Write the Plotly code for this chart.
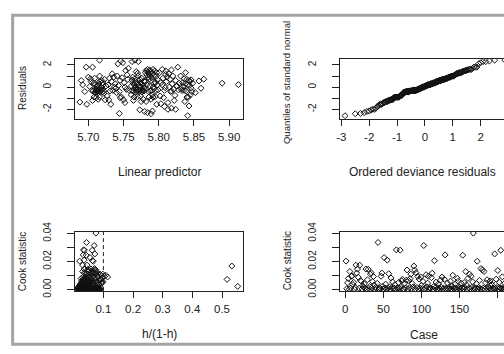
import plotly.graph_objects as go
from statistics import NormalDist

W, H = 504, 354
FONT = "Liberation Sans, Arial, sans-serif"
INK = "#222222"

# ---------------- data ----------------
linear_predictor = [
    5.688, 5.698, 5.697, 5.706, 5.716, 5.692, 5.690, 5.695, 5.700, 5.703,
    5.705, 5.707, 5.708, 5.709, 5.710, 5.710, 5.711, 5.711, 5.712, 5.712,
    5.713, 5.713, 5.714, 5.714, 5.715, 5.715, 5.716, 5.716, 5.717, 5.718,
    5.718, 5.719, 5.720, 5.720, 5.721, 5.722, 5.723, 5.724, 5.725, 5.708,
    5.704, 5.702, 5.706, 5.709, 5.712, 5.716, 5.719, 5.722, 5.710, 5.714,
    5.729, 5.732, 5.744, 5.742, 5.746, 5.749, 5.753, 5.757, 5.738, 5.741,
    5.745, 5.748, 5.740, 5.747, 5.744, 5.745, 5.752, 5.750, 5.730, 5.733,
    5.735, 5.737, 5.728, 5.731, 5.736, 5.739, 5.743, 5.751, 5.754, 5.756,
    5.758, 5.755, 5.727, 5.734, 5.752,
    5.762, 5.766, 5.771, 5.768, 5.770, 5.773, 5.778, 5.765, 5.770, 5.775,
    5.761, 5.762, 5.763, 5.764, 5.765, 5.766, 5.767, 5.767, 5.768, 5.769,
    5.769, 5.770, 5.771, 5.772, 5.772, 5.773, 5.774, 5.774, 5.775, 5.776,
    5.776, 5.777, 5.778, 5.779, 5.763, 5.766, 5.771, 5.764, 5.777, 5.761,
    5.768, 5.773, 5.779, 5.762, 5.775,
    5.781, 5.782, 5.783, 5.784, 5.785, 5.785, 5.786, 5.787, 5.788, 5.789,
    5.790, 5.791, 5.792, 5.793, 5.794, 5.796, 5.797, 5.780, 5.784, 5.789,
    5.791, 5.789, 5.797, 5.782, 5.786, 5.788, 5.790, 5.792, 5.794, 5.781,
    5.783, 5.785, 5.787, 5.789, 5.791, 5.793, 5.795, 5.796, 5.798, 5.799,
    5.786, 5.792, 5.780, 5.798, 5.795,
    5.827, 5.801, 5.805, 5.810, 5.814, 5.818, 5.810, 5.803, 5.808, 5.813,
    5.818, 5.824, 5.802, 5.807, 5.813, 5.817, 5.822, 5.805, 5.808, 5.811,
    5.815, 5.819, 5.821, 5.824, 5.826, 5.828, 5.806, 5.812, 5.816, 5.820,
    5.803, 5.809, 5.823, 5.829, 5.818,
    5.841, 5.843, 5.836, 5.840, 5.843, 5.846, 5.834, 5.838, 5.841, 5.844,
    5.836, 5.839, 5.842, 5.845, 5.833, 5.847, 5.840, 5.835, 5.844, 5.831,
    5.838, 5.846, 5.832, 5.848, 5.837,
    5.852, 5.857, 5.864, 5.890, 5.913, 5.860,
]

residuals = [
    -1.35, -1.55, 1.80, 1.80, 2.43, 0.20, 0.60, -0.40, 0.90, 0.75,
    -0.30, -0.35, -0.90, -0.50, -0.20, -0.45, -0.95, -0.40, -0.25, 0.10,
    -0.40, -0.30, -1.10, -0.50, 0.30, -0.15, -0.90, 0.50, -0.40, -0.30,
    0.00, -0.25, 0.40, -0.45, 0.20, -0.35, 0.70, -1.15, 0.10, 0.35,
    0.50, 0.05, -1.20, 0.80, -0.05, 1.00, 0.60, -0.55, 0.20, 0.15,
    -1.15, -1.55, -2.37, 2.10, 2.35, 2.20, 1.50, 1.70, 0.30, 1.00,
    0.60, 0.85, -0.50, -0.90, -0.40, -0.95, -1.40, -1.15, 0.80, 0.50,
    -0.30, 0.00, 0.20, -0.35, 0.90, -0.10, 0.15, 0.40, -0.20, 0.70,
    -0.30, 1.10, -0.80, 1.20, 0.00,
    2.30, 2.43, 2.30, 1.40, 1.25, -2.05, -1.10, -0.90, -0.85, -1.30,
    0.10, -0.30, 0.40, -0.35, 0.20, -0.10, 0.50, -0.45, 0.00, -0.40,
    0.30, -0.20, 0.60, -0.40, 0.10, -0.30, 0.40, -0.80, 0.00, 0.80,
    -0.45, 0.25, -0.15, 0.55, 0.90, 0.75, 1.00, -1.20, -0.30, -0.70,
    -0.25, 0.70, -0.35, 0.65, 0.35,
    1.30, 1.50, 1.10, 1.60, 0.90, 1.35, 1.20, 1.55, 1.00, 1.40,
    0.85, 1.25, 1.60, 1.05, 1.45, 0.95, 1.30, -2.20, -2.30, -2.40,
    -2.15, -1.10, -1.55, -1.30, -0.90, -0.35, -0.30, 0.00, 0.30, 0.50,
    0.20, -0.40, 0.10, 0.60, -0.70, -0.15, 0.45, -0.30, 0.20, -0.25,
    0.70, -0.90, -0.05, 0.70, -0.85,
    1.80, 1.30, 1.60, 1.45, 1.20, 1.55, 1.15, -1.50, -1.75, -2.00,
    -1.90, -2.00, -0.80, -0.95, -1.40, -0.40, -1.20, 0.20, -0.30, 0.50,
    0.00, 0.30, -0.20, 0.60, 0.10, -0.25, 0.80, 0.90, 0.70, 1.00,
    0.40, -0.05, -0.75, 0.35, -0.35,
    -2.58, -1.70, 0.75, 0.70, 0.60, 0.65, 0.40, 0.30, 0.20, 0.50,
    -0.30, -0.35, -0.90, -0.70, -0.30, -0.40, -0.90, 0.05, 0.15, 1.00,
    1.30, -0.10, -0.15, 0.35, -1.30,
    -0.50, 0.55, 0.72, 0.35, 0.22, -0.10,
]

cook_statistic = [
    0.0203, 0.0006, 0.0048, 0.0079, 0.0002, 0.0129, 0.0011, 0.0095, 0.0098, 0.0036,
    0.0052, 0.0003, 0.0015, 0.0174, 0.0118, 0.0146, 0.0088, 0.0009, 0.0174, 0.0064,
    0.0060, 0.0005, 0.0027, 0.0018, 0.0041, 0.0010, 0.0147, 0.0004, 0.0070, 0.0145,
    0.0008, 0.0021, 0.0110, 0.0120, 0.0012, 0.0057, 0.0093, 0.0033, 0.0002, 0.0016,
    0.0007, 0.0045, 0.0336, 0.0003, 0.0013, 0.0008, 0.0095, 0.0118, 0.0024, 0.0006,
    0.0228, 0.0011, 0.0039, 0.0004, 0.0210, 0.0009, 0.0113, 0.0017, 0.0001, 0.0083,
    0.0014, 0.0055, 0.0005, 0.0010, 0.0035, 0.0003, 0.0283, 0.0012, 0.0007, 0.0050,
    0.0009, 0.0281, 0.0016, 0.0062, 0.0073, 0.0006, 0.0002, 0.0044, 0.0011, 0.0067,
    0.0140, 0.0004, 0.0065, 0.0013, 0.0078, 0.0110, 0.0008, 0.0043, 0.0020, 0.0168,
    0.0140, 0.0005, 0.0120, 0.0015, 0.0094, 0.0002, 0.0075, 0.0010, 0.0090, 0.0030,
    0.0009, 0.0058, 0.0314, 0.0003, 0.0012, 0.0106, 0.0019, 0.0046, 0.0095, 0.0006,
    0.0014, 0.0007, 0.0085, 0.0117, 0.0004, 0.0022, 0.0206, 0.0011, 0.0053, 0.0002,
    0.0008, 0.0040, 0.0013, 0.0005, 0.0068, 0.0017, 0.0090, 0.0003, 0.0010, 0.0073,
    0.0247, 0.0006, 0.0012, 0.0047, 0.0002, 0.0015, 0.0009, 0.0060, 0.0004, 0.0025,
    0.0102, 0.0011, 0.0006, 0.0038, 0.0013, 0.0003, 0.0080, 0.0060, 0.0008, 0.0018,
    0.0005, 0.0045, 0.0012, 0.0245, 0.0007, 0.0050, 0.0014, 0.0129, 0.0033, 0.0004,
    0.0080, 0.0010, 0.0110, 0.0006, 0.0095, 0.0016, 0.0055, 0.0402, 0.0009, 0.0003,
    0.0012, 0.0042, 0.0202, 0.0005, 0.0015, 0.0066, 0.0008, 0.0150, 0.0002, 0.0140,
    0.0011, 0.0129, 0.0004, 0.0048, 0.0013, 0.0070, 0.0007, 0.0020, 0.0010, 0.0062,
    0.0006, 0.0037, 0.0058, 0.0012, 0.0003, 0.0254, 0.0009, 0.0074, 0.0015, 0.0136,
    0.0005, 0.0052, 0.0011, 0.0280, 0.0008, 0.0091, 0.0002, 0.0014, 0.0046, 0.0010,
    0.0004, 0.0023, 0.0012, 0.0007, 0.0039, 0.0052, 0.0006, 0.0016, 0.0009, 0.0061,
    0.0013, 0.0003, 0.0044, 0.0085, 0.0008, 0.0011, 0.0027, 0.0005, 0.0072, 0.0002,
    0.0015, 0.0009, 0.0049, 0.0006, 0.0068, 0.0012, 0.0003, 0.0034, 0.0010, 0.0056,
    0.0007,
]

h_ratio = [
    0.020, 0.014, 0.052, 0.025, 0.061, 0.030, 0.019, 0.065, 0.055, 0.044,
    0.071, 0.016, 0.038, 0.030, 0.036, 0.035, 0.040, 0.083, 0.045, 0.027,
    0.030, 0.012, 0.049, 0.023, 0.062, 0.018, 0.058, 0.076, 0.034, 0.048,
    0.015, 0.057, 0.088, 0.040, 0.028, 0.046, 0.068, 0.021, 0.090, 0.033,
    0.017, 0.079, 0.043, 0.025, 0.052, 0.013, 0.045, 0.060, 0.031, 0.069,
    0.055, 0.022, 0.064, 0.086, 0.035, 0.041, 0.080, 0.015, 0.072, 0.070,
    0.027, 0.050, 0.018, 0.060, 0.029, 0.038, 0.033, 0.047, 0.014, 0.056,
    0.063, 0.036, 0.024, 0.042, 0.517, 0.075, 0.020, 0.032, 0.066, 0.039,
    0.052, 0.016, 0.050, 0.029, 0.044, 0.098, 0.057, 0.085, 0.023, 0.533,
    0.074, 0.081, 0.068, 0.019, 0.103, 0.034, 0.035, 0.053, 0.114, 0.026,
    0.048, 0.037, 0.069, 0.013, 0.065, 0.090, 0.040, 0.024, 0.080, 0.059,
    0.021, 0.088, 0.030, 0.072, 0.046, 0.017, 0.063, 0.054, 0.027, 0.078,
    0.044, 0.024, 0.092, 0.015, 0.033, 0.061, 0.082, 0.037, 0.050, 0.090,
    0.032, 0.070, 0.018, 0.058, 0.026, 0.047, 0.084, 0.040, 0.012, 0.066,
    0.108, 0.029, 0.052, 0.036, 0.075, 0.020, 0.043, 0.060, 0.067, 0.031,
    0.055, 0.093, 0.014, 0.042, 0.079, 0.097, 0.025, 0.075, 0.038, 0.062,
    0.058, 0.022, 0.045, 0.071, 0.060, 0.035, 0.028, 0.075, 0.086, 0.016,
    0.049, 0.064, 0.066, 0.030, 0.057, 0.041, 0.019, 0.070, 0.081, 0.070,
    0.037, 0.050, 0.073, 0.026, 0.062, 0.045, 0.013, 0.054, 0.034, 0.080,
    0.068, 0.031, 0.098, 0.047, 0.022, 0.071, 0.059, 0.039, 0.017, 0.062,
    0.087, 0.044, 0.028, 0.062, 0.052, 0.050, 0.076, 0.018, 0.065, 0.035,
    0.024, 0.553, 0.043, 0.069, 0.030, 0.078, 0.015, 0.057, 0.040, 0.048,
    0.061, 0.020, 0.036, 0.096, 0.083, 0.027, 0.050, 0.070, 0.032, 0.045,
    0.016, 0.064, 0.039, 0.025, 0.087, 0.053, 0.074, 0.029, 0.041, 0.058,
    0.033,
]

cook_cutoff_h = 0.1

lp_ticks = [5.70, 5.75, 5.80, 5.85, 5.90]
lp_ticktext = ["5.70", "5.75", "5.80", "5.85", "5.90"]
res_ticks = [-2, -1, 0, 1, 2]
res_ticktext = ["-2", "", "0", "", "2"]
dev_ticks = [-3, -2, -1, 0, 1, 2]
dev_ticktext = ["-3", "-2", "-1", "0", "1", "2"]
h_ticks = [0.1, 0.2, 0.3, 0.4, 0.5]
h_ticktext = ["0.1", "0.2", "0.3", "0.4", "0.5"]
cook_ticks = [0.0, 0.01, 0.02, 0.03, 0.04]
cook_ticktext = ["0.00", "", "0.02", "", "0.04"]
case_ticks = [0, 50, 100, 150, 200]
case_ticktext = ["0", "50", "100", "150", "200"]

# ---------------- derived (QQ) ----------------
n = len(residuals)
ordered_resid = sorted(residuals)
normal_quantiles = [NormalDist().inv_cdf((i + 0.5) / n) for i in range(n)]
cases = list(range(1, len(cook_statistic) + 1))

# ---------------- figure ----------------
def fx(p):
    return p / W


def fy(p):
    return 1 - p / H


marker = dict(symbol="diamond-open", size=4.6, color="#111111",
              line=dict(width=1.0, color="#111111"))

fig = go.Figure()
fig.add_trace(go.Scatter(x=linear_predictor, y=residuals, mode="markers",
                         marker=marker, xaxis="x", yaxis="y", hoverinfo="skip"))
fig.add_trace(go.Scatter(x=normal_quantiles, y=ordered_resid, mode="markers",
                         marker=marker, xaxis="x2", yaxis="y2", hoverinfo="skip"))
fig.add_trace(go.Scatter(x=h_ratio, y=cook_statistic, mode="markers",
                         marker=marker, xaxis="x3", yaxis="y3", hoverinfo="skip"))
fig.add_trace(go.Scatter(x=cases, y=cook_statistic, mode="markers",
                         marker=marker, xaxis="x4", yaxis="y4", hoverinfo="skip"))

# grey screenshot frame drawn on a full-page overlay axis (pixel units)
FRAME = "#a4a4a4"
fig.add_trace(go.Scatter(x=[504, 8.7, 8.7, 504], y=[5.5, 5.5, 351, 351], mode="lines",
                         line=dict(color=FRAME, width=3), xaxis="x5", yaxis="y5",
                         hoverinfo="skip", cliponaxis=False))

tickfont = dict(family=FONT, size=11.5, color=INK)
ytickfont = dict(family=FONT, size=10, color=INK)


def xax(domain, rng, tv, tt, anchor):
    return dict(domain=domain, range=rng, anchor=anchor, tickvals=tv, ticktext=tt,
                ticks="outside", ticklen=6, tickwidth=1, tickcolor=INK,
                showline=True, linecolor=INK, linewidth=1, mirror=True,
                showgrid=False, zeroline=False, tickfont=tickfont,
                ticklabelstandoff=1, fixedrange=True)


def yax(domain, rng, tv, tt, anchor, mirror):
    return dict(domain=domain, range=rng, anchor=anchor, tickvals=tv, ticktext=tt,
                ticks="outside", ticklen=7, tickwidth=1, tickcolor=INK,
                showline=True, linecolor=INK, linewidth=1, mirror=mirror,
                showgrid=False, zeroline=False, tickfont=ytickfont, tickangle=-90,
                ticklabelstandoff=12, fixedrange=True)


top_dom = [fy(114.3), fy(51.7)]
bot_dom = [fy(295.3), fy(232.7)]
left_dom = [fx(72), fx(241)]
right_dom = [fx(339), 1.0]

fig.update_layout(
    width=W, height=H,
    margin=dict(l=0, r=0, t=0, b=0),
    paper_bgcolor="white", plot_bgcolor="rgba(0,0,0,0)",
    showlegend=False,
    font=dict(family=FONT, color=INK),
    xaxis=xax(left_dom, [5.6817, 5.9197], lp_ticks, lp_ticktext, "y"),
    yaxis=yax(top_dom, [-2.858, 2.515], res_ticks, res_ticktext, "x", True),
    xaxis2=xax(right_dom, [-3.036, 2.836], dev_ticks, dev_ticktext, "y2"),
    yaxis2=yax(top_dom, [-2.858, 2.515], res_ticks, res_ticktext, "x2", False),
    xaxis3=xax(left_dom, [0.0057, 0.571], h_ticks, h_ticktext, "y3"),
    yaxis3=yax(bot_dom, [-0.00108, 0.04136], cook_ticks, cook_ticktext, "x3", True),
    xaxis4=xax(right_dom, [-6.5, 208.2], case_ticks, case_ticktext, "y4"),
    yaxis4=yax(bot_dom, [-0.00108, 0.04136], cook_ticks, cook_ticktext, "x4", False),
    xaxis5=dict(domain=[0, 1], range=[0, W], anchor="y5", visible=False, fixedrange=True),
    yaxis5=dict(domain=[0, 1], range=[H, 0], anchor="x5", visible=False, fixedrange=True),
)

title_font_h = dict(family=FONT, size=12, color=INK)
title_font_v = dict(family=FONT, size=10, color=INK)
annotations = [
    dict(text="Residuals", x=fx(18), y=fy(82), angle=-90, font=title_font_v),
    dict(text="Linear predictor", x=fx(156.5), y=fy(170), angle=0, font=title_font_h),
    dict(text="Quantiles of standard normal", x=fx(285), y=fy(76),
         angle=-90, font=dict(family=FONT, size=9.6, color=INK)),
    dict(text="Ordered deviance residuals", x=fx(422), y=fy(170), angle=0, font=title_font_h),
    dict(text="Cook statistic", x=fx(18), y=fy(264), angle=-90, font=title_font_v),
    dict(text="h/(1-h)", x=fx(156.5), y=fy(340.5), angle=0, font=title_font_h),
    dict(text="Cook statistic", x=fx(285.3), y=fy(264), angle=-90, font=title_font_v),
    dict(text="Case", x=fx(423.5), y=fy(341), angle=0, font=title_font_h),
]
for a in annotations:
    fig.add_annotation(text=a["text"], x=a["x"], y=a["y"], xref="paper", yref="paper",
                       textangle=a["angle"], showarrow=False, font=a["font"],
                       xanchor="center", yanchor="middle")

# dashed leverage cut-off line in the h/(1-h) panel
fig.add_shape(type="line", xref="x3", yref="y3 domain", x0=cook_cutoff_h, x1=cook_cutoff_h,
              y0=0, y1=1, line=dict(color=INK, width=1, dash="4px,3px"))

fig.write_html(
    "out.html",
    config={"displayModeBar": False, "staticPlot": True},
    post_script="document.body.style.margin='0px';document.body.style.overflow='hidden';",
)
